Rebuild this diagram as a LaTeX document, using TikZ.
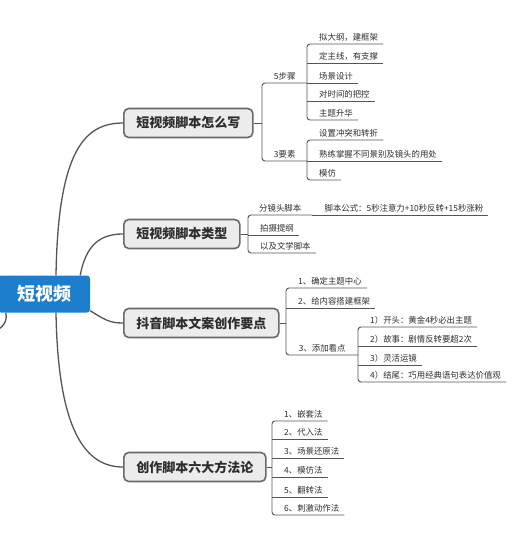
\documentclass[tikz,border=0pt]{standalone}
\usepackage{fontspec}
\newfontfamily\cjk{Noto Sans CJK SC}
\usetikzlibrary{positioning,calc}

\definecolor{rootblue}{RGB}{28,126,205}
\definecolor{boxfill}{RGB}{236,236,236}
\definecolor{boxline}{RGB}{105,105,105}
\definecolor{linegray}{RGB}{85,85,85}
\definecolor{textgray}{RGB}{45,45,45}

\tikzset{
  rootbox/.style={fill=rootblue, rounded corners=3pt, text=white, inner sep=0pt,
    font=\cjk\bfseries\fontsize{18}{20}\selectfont, minimum width=92pt, minimum height=37pt},
  mainbox/.style={draw=boxline, line width=1.6pt, fill=boxfill, rounded corners=5pt, anchor=west,
    text=textgray, font=\cjk\bfseries\fontsize{13}{15}\selectfont, minimum height=29pt, inner xsep=12.5pt},
  leaf/.style={anchor=south west, inner xsep=0pt, inner ysep=2.5pt, text=textgray,
    font=\cjk\fontsize{8.4}{10}\selectfont,
    execute at begin node={\hspace*{12pt}}, execute at end node={\hspace*{5pt}}},
  group/.style={anchor=south west, inner sep=2.5pt, text=textgray,
    font=\cjk\fontsize{8.4}{10}\selectfont},
  link/.style={draw=linegray, line width=0.9pt},
  bracket/.style={link, rounded corners=3pt},
  branch/.style={draw=linegray, line width=1.3pt},
}

\begin{document}
\begin{tikzpicture}[x=1pt,y=-1pt]
    \fill[white] (0,0) rectangle (521,536);
    \useasboundingbox (0,0) rectangle (521,536);

    % Root
    \node[rootbox] (root) at (44,294) {短视频};
    % Main topics
    \node[mainbox] (b1) at (123,123) {短视频脚本怎么写};
    \node[mainbox] (b2) at (123,234) {短视频脚本类型};
    \node[mainbox] (b3) at (123,323) {抖音脚本文案创作要点};
    \node[mainbox] (b4) at (123,467) {创作脚本六大方法论};

    % off-frame end
    \coordinate (offleft) at (-6,332);

    %Curve Lines
    \draw[branch] ([xshift=12pt]root.north) .. controls (58,150) and (85,123) .. (b1.west);
    \draw[branch] ([xshift=-10pt]root.north east) .. controls (86,245) and (100,234) .. (b2.west);
    \draw[branch] ([yshift=2pt]root.south east) .. controls (105,320) and (110,323) .. (b3.west);
    \draw[branch] ([xshift=12pt]root.south) .. controls (58,430) and (85,467) .. (b4.west);
    \draw[branch] ([xshift=8pt]root.south west) .. controls (8,322) and (2,328) .. (offleft);

    % Text Node: 短视频脚本怎么写
    \node[group, minimum width=45pt] (k1) at (262,83) {5步骤};
    \node[group, minimum width=45pt] (k2) at (262,161) {3要素};
    \draw[link] (b1.east) -- (b1.east -| k1.south west);
    \draw[bracket] (k1.south east) -- (k1.south west) -- (k2.south west) -- (k2.south east);

    \node[leaf] (s1) at (307,44) {拟大纲，建框架};
    \node[leaf] (s2) at (307,63) {定主线，有支撑};
    \node[leaf] (s3) at (307,83) {场景设计};
    \node[leaf] (s4) at (307,101) {对时间的把控};
    \node[leaf] (s5) at (307,120) {主题升华};
    \draw[bracket] (s1.south east) -- (s1.south west) -- (s5.south west) -- (s5.south east);
    \foreach \n in {s2,s3,s4} \draw[link] (\n.south west) -- (\n.south east);

    \node[leaf] (t1) at (307,140) {设置冲突和转折};
    \node[leaf] (t2) at (307,161) {熟练掌握不同景别及镜头的用处};
    \node[leaf] (t3) at (307,180) {模仿};
    \draw[bracket] (t1.south east) -- (t1.south west) -- (t3.south west) -- (t3.south east);
    \draw[link] (t2.south west) -- (t2.south east);

    % Text Node: 短视频脚本类型
    \node[group, minimum width=64pt] (p1) at (248,215) {分镜头脚本};
    \node[leaf, anchor=south west] (p1x) at (p1.south east) {脚本公式：5秒注意力+10秒反转+15秒涨粉};
    \node[leaf] (p2) at (248,235) {拍摄提纲};
    \node[leaf] (p3) at (248,253) {以及文学脚本};
    \draw[link] (b2.east) -- (b2.east -| p1.south west);
    \draw[bracket] (p1.south east) -- (p1.south west) -- (p3.south west) -- (p3.south east);
    \draw[link] (p2.south west) -- (p2.south east);
    \draw[link] (p1.south east) -- (p1x.south east);

    % Text Node: 抖音脚本文案创作要点
    \node[leaf] (q1) at (286,288) {1、确定主题中心};
    \node[leaf] (q2) at (286,308) {2、给内容搭建框架};
    \node[group, minimum width=72pt] (q3) at (286,355) {3、添加看点};
    \draw[link] (b3.east) -- (b3.east -| q1.south west);
    \draw[bracket] (q1.south east) -- (q1.south west) -- (q3.south west) -- (q3.south east);
    \draw[link] (q2.south west) -- (q2.south east);

    \node[leaf] (r1) at (358,327) {1）开头：黄金4秒必出主题};
    \node[leaf] (r2) at (358,346) {2）故事：剧情反转要超2次};
    \node[leaf] (r3) at (358,365) {3）灵活运镜};
    \node[leaf] (r4) at (358,382) {4）结尾：巧用经典语句表达价值观};
    \draw[bracket] (r1.south east) -- (r1.south west) -- (r4.south west) -- (r4.south east);
    \foreach \n in {r2,r3} \draw[link] (\n.south west) -- (\n.south east);

    % Text Node: 创作脚本六大方法论
    \node[leaf] (u1) at (272,421) {1、嵌套法};
    \node[leaf] (u2) at (272,439) {2、代入法};
    \node[leaf] (u3) at (272,458) {3、场景还原法};
    \node[leaf] (u4) at (272,477) {4、模仿法};
    \node[leaf] (u5) at (272,497) {5、翻转法};
    \node[leaf] (u6) at (272,515) {6、刺激动作法};
    \draw[link] (b4.east) -- (b4.east -| u1.south west);
    \draw[bracket] (u1.south east) -- (u1.south west) -- (u6.south west) -- (u6.south east);
    \foreach \n in {u2,u3,u4,u5} \draw[link] (\n.south west) -- (\n.south east);
\end{tikzpicture}
\end{document}
